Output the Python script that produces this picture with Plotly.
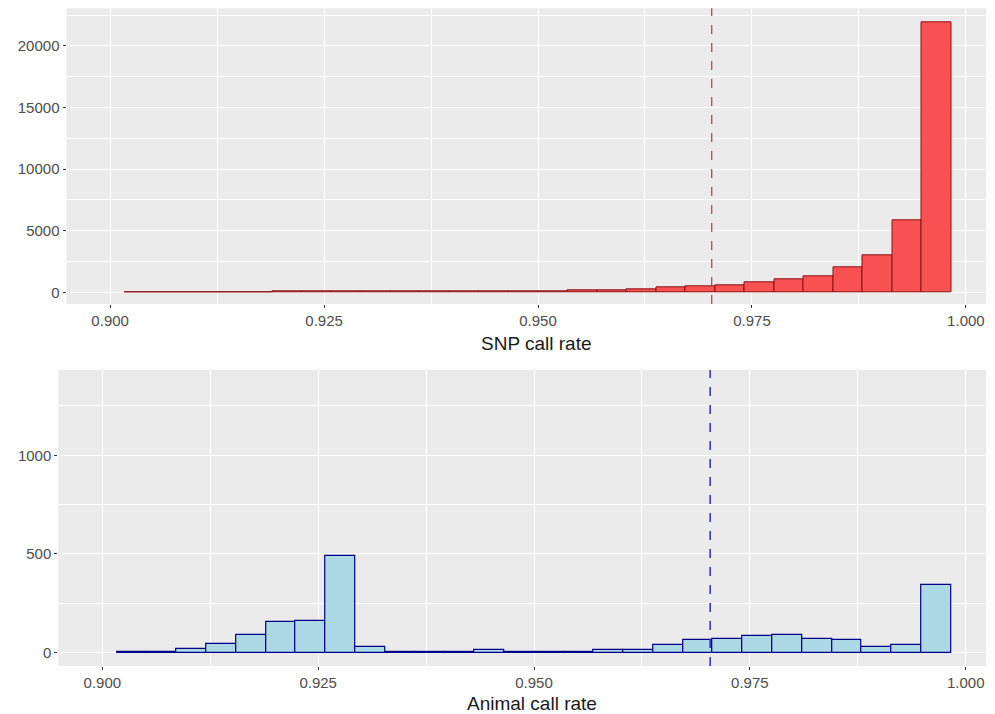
import plotly.graph_objects as go

# Histogram bins (shared by both panels)
BIN_WIDTH = 0.00345
bin_centers = [0.903425, 0.906875, 0.910325, 0.913775, 0.917225, 0.920675, 0.924125,
               0.927575, 0.931025, 0.934475, 0.937925, 0.941375, 0.944825, 0.948275,
               0.951725, 0.955175, 0.958625, 0.962075, 0.965525, 0.968975, 0.972425,
               0.975875, 0.979325, 0.982775, 0.986225, 0.989675, 0.993125, 0.996575]

snp_counts = [20, 20, 25, 30, 35, 80, 85, 85, 90, 90, 95, 95, 100, 100,
              110, 180, 190, 270, 380, 490, 600, 785, 1085, 1300, 2050, 2970, 5830, 21950]

animal_counts = [5, 5, 20, 45, 88, 155, 162, 490, 30, 5, 5, 5, 15, 5,
                 5, 1, 12, 12, 39, 64, 71, 83, 90, 71, 64, 30, 39, 341]

snp_threshold = 0.9703
animal_threshold = 0.9704

x_ticks = [0.900, 0.925, 0.950, 0.975, 1.000]
x_ticklabels = ["0.900", "0.925", "0.950", "0.975", "1.000"]
snp_yticks = [0, 5000, 10000, 15000, 20000]
snp_yticklabels = ["0", "5000", "10000", "15000", "20000"]
animal_yticks = [0, 500, 1000]
animal_yticklabels = ["0", "500", "1000"]

W, H = 995, 714
FONT = "Liberation Sans, Arial, sans-serif"
BG = "#EBEBEB"

fig = go.Figure()
fig.add_trace(go.Bar(x=bin_centers, y=snp_counts, width=BIN_WIDTH,
                     marker=dict(color="#FA5252", line=dict(color="#8B1010", width=1)),
                     xaxis="x", yaxis="y", showlegend=False))
fig.add_trace(go.Bar(x=bin_centers, y=animal_counts, width=BIN_WIDTH,
                     marker=dict(color="#ADD8E6", line=dict(color="#00008B", width=1.2)),
                     xaxis="x2", yaxis="y2", showlegend=False))

def px_x(p):
    return p / W

def px_y(p):
    return 1 - p / H

tickfont = dict(family=FONT, size=15, color="#4D4D4D")
common_x = dict(range=[0.89490, 1.00235], tickvals=x_ticks, ticktext=x_ticklabels,
                showgrid=True, gridcolor="white", gridwidth=1.2, zeroline=False,
                ticks="outside", ticklen=3, tickcolor="#333333", tickwidth=1,
                tickfont=tickfont, showline=False,
                minor=dict(dtick=0.0125, tick0=0.9, showgrid=True, gridcolor="white",
                           gridwidth=0.6, ticks=""))
common_y = dict(showgrid=True, gridcolor="white", gridwidth=1.2, zeroline=False,
                ticks="outside", ticklen=3, tickcolor="#333333", tickwidth=1,
                tickfont=tickfont, showline=False)

fig.update_layout(
    width=W, height=H,
    margin=dict(l=0, r=0, t=0, b=0),
    paper_bgcolor="white",
    plot_bgcolor=BG,
    bargap=0,
    xaxis=dict(domain=[px_x(66.5), px_x(986)], anchor="y", **common_x),
    yaxis=dict(domain=[px_y(304), px_y(8.3)], anchor="x", range=[-950, 23060],
               tickvals=snp_yticks, ticktext=snp_yticklabels,
               minor=dict(dtick=2500, tick0=0, showgrid=True, gridcolor="white",
                          gridwidth=0.6, ticks=""),
               **common_y),
    xaxis2=dict(domain=[px_x(58.3), px_x(986)], anchor="y2", **common_x),
    yaxis2=dict(domain=[px_y(666), px_y(370)], anchor="x2", range=[-68, 1432],
                tickvals=animal_yticks, ticktext=animal_yticklabels,
                minor=dict(dtick=250, tick0=0, showgrid=True, gridcolor="white",
                           gridwidth=0.6, ticks=""),
                **common_y),
    shapes=[
        dict(type="line", xref="x", yref="y domain", x0=snp_threshold, x1=snp_threshold,
             y0=0, y1=1, line=dict(color="#B03A48", width=1.2, dash="dash")),
        dict(type="line", xref="x2", yref="y2 domain", x0=animal_threshold, x1=animal_threshold,
             y0=0, y1=1, line=dict(color="#2020C0", width=1.4, dash="dash")),
    ],
    annotations=[
        dict(text="SNP call rate", xref="paper", yref="paper",
             x=px_x(536), y=px_y(343), xanchor="center", yanchor="middle",
             showarrow=False, font=dict(family=FONT, size=19, color="#1A1A1A")),
        dict(text="Animal call rate", xref="paper", yref="paper",
             x=px_x(532), y=px_y(703), xanchor="center", yanchor="middle",
             showarrow=False, font=dict(family=FONT, size=19, color="#1A1A1A")),
    ],
)

fig.write_html("out.html")
